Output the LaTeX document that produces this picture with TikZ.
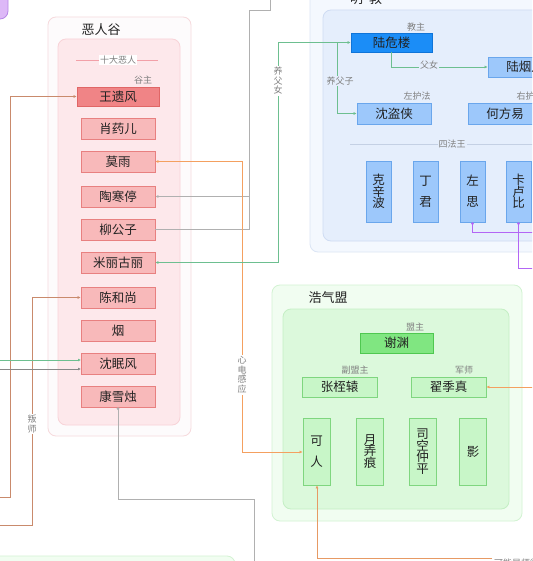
\documentclass[tikz,border=0pt]{standalone}
\usepackage{fontspec}
\setmainfont{Noto Sans CJK SC}
\usetikzlibrary{arrows.meta}
\definecolor{erOutFill}{HTML}{FDFBFC}
\definecolor{erOutBd}{HTML}{F6DADD}
\definecolor{erInFill}{HTML}{FDE8EB}
\definecolor{erInBd}{HTML}{F8D3D8}
\definecolor{erBox}{HTML}{F8B9BA}
\definecolor{erBoxBd}{HTML}{E88080}
\definecolor{erDark}{HTML}{F08486}
\definecolor{erDarkBd}{HTML}{E06666}
\definecolor{mjOutFill}{HTML}{F4F8FE}
\definecolor{mjOutBd}{HTML}{DBE5F5}
\definecolor{mjInFill}{HTML}{E5EEFC}
\definecolor{mjInBd}{HTML}{CFDCF3}
\definecolor{mjBox}{HTML}{9DC8FB}
\definecolor{mjBoxBd}{HTML}{6AA6EC}
\definecolor{mjDark}{HTML}{1B8DF7}
\definecolor{mjDarkBd}{HTML}{0F74D8}
\definecolor{hqOutFill}{HTML}{F1FDF1}
\definecolor{hqOutBd}{HTML}{D2F3D2}
\definecolor{hqInFill}{HTML}{DCF9DC}
\definecolor{hqInBd}{HTML}{C4EFC4}
\definecolor{hqBox}{HTML}{C8F6C8}
\definecolor{hqBoxBd}{HTML}{7FD67F}
\definecolor{hqDark}{HTML}{80E681}
\definecolor{hqDarkBd}{HTML}{4FC850}
\definecolor{lnGray}{HTML}{B0B0B0}
\definecolor{lnOrange}{HTML}{F4A060}
\definecolor{lnGreen}{HTML}{6DBF90}
\definecolor{lnBrown}{HTML}{C98A6C}
\definecolor{lnPurple}{HTML}{B366F5}
\definecolor{lnDark}{HTML}{555555}
\definecolor{sepPink}{HTML}{F2A0A8}
\definecolor{sepBlue}{HTML}{C4D0E4}
\definecolor{txt}{HTML}{222222}
\definecolor{lblc}{HTML}{808080}
\definecolor{purpleFill}{HTML}{DDB8F7}
\definecolor{purpleBd}{HTML}{B685E6}
\begin{document}
\begin{tikzpicture}[x=1pt,y=-1pt,
  grp/.style={rounded corners=8pt, line width=0.8pt},
  boxbase/.style={draw, line width=0.8pt, inner sep=0pt, text=txt,
    font=\fontsize{12.5}{13}\selectfont},
  erb/.style={boxbase, draw=erBoxBd, fill=erBox, minimum width=74pt, minimum height=21pt},
  erhead/.style={boxbase, draw=erDarkBd, fill=erDark, minimum width=82pt, minimum height=19pt},
  mjb/.style={boxbase, draw=mjBoxBd, fill=mjBox, minimum width=74pt, minimum height=21pt},
  mjhead/.style={boxbase, draw=mjDarkBd, fill=mjDark, minimum width=81pt, minimum height=19pt},
  mjv/.style={boxbase, draw=mjBoxBd, fill=mjBox, minimum width=25pt, minimum height=61pt, align=center},
  hqb/.style={boxbase, draw=hqBoxBd, fill=hqBox, minimum width=75pt, minimum height=20pt},
  hqhead/.style={boxbase, draw=hqDarkBd, fill=hqDark, minimum width=73pt, minimum height=20pt},
  hqv/.style={boxbase, draw=hqBoxBd, fill=hqBox, minimum width=27pt, minimum height=67pt, align=center},
  lbl/.style={font=\fontsize{9}{9.5}\selectfont, text=lblc, inner sep=1pt},
  vlbl/.style={lbl, align=center, fill=white, inner sep=1.5pt},
  title/.style={font=\fontsize{13}{13}\selectfont, text=txt},
  tip/.style={-{Latex[length=3pt,width=3pt]}},
  tips/.style={{Latex[length=3pt,width=3pt]}-{Latex[length=3pt,width=3pt]}},
  conn/.style={line width=0.9pt}
]
\useasboundingbox (0,0) rectangle (532,561);
\clip (0,0) rectangle (532,561);
\fill[white] (0,0) rectangle (532,561);

% ---------- group frames ----------
\draw[grp, fill=purpleFill, draw=purpleBd] (-10,-10) rectangle (8,19);
\draw[grp, fill=hqOutFill, draw=hqOutBd] (-10,556) rectangle (235,600);

\draw[grp, fill=erOutFill, draw=erOutBd] (48,17) rectangle (191,436);
\draw[grp, fill=erInFill, draw=erInBd] (58,39) rectangle (180,425);
\node[title] (ertitle) at (101,30) {恶人谷};

\draw[grp, fill=mjOutFill, draw=mjOutBd] (310,-20) rectangle (570,252);
\draw[grp, fill=mjInFill, draw=mjInBd] (323,10) rectangle (560,241);
\node[title] (mjtitle) at (366,-1) {明\hspace{6pt}教};

\draw[grp, fill=hqOutFill, draw=hqOutBd] (272,285) rectangle (522,521);
\draw[grp, fill=hqInFill, draw=hqInBd] (283,309) rectangle (509,509);
\node[title] (hqtitle) at (328,298) {浩气盟};

% ---------- separators ----------
\coordinate (sepA) at (76,60);
\coordinate (sepB) at (158,60);
\draw[sepPink, line width=0.8pt] (sepA) -- (sepB);
\node[lbl, fill=white] (shida) at (118,60) {十大恶人};

\coordinate (sepC) at (350,144);
\coordinate (sepD) at (540,144);
\draw[sepBlue, line width=0.8pt] (sepC) -- (sepD);
\node[lbl, fill=mjInFill] (sifa) at (452,144) {四法王};

% ---------- 恶人谷 ----------
\node[erhead] (wyf) at (118,96.5) {王遗风};
\node[lbl] (guzhu) at (143,80) {谷主};
\node[erb] (xye) at (118,128.5) {肖药儿};
\node[erb] (my) at (118,161.5) {莫雨};
\node[erb] (tht) at (118,196.5) {陶寒停};
\node[erb] (lgz) at (118,229.5) {柳公子};
\node[erb] (mlgl) at (118,262.5) {米丽古丽};
\node[erb] (chs) at (118,297.5) {陈和尚};
\node[erb] (yan) at (118,330.5) {烟};
\node[erb] (smf) at (118,363.5) {沈眠风};
\node[erb] (kxz) at (118,396.5) {康雪烛};

% ---------- 明教 ----------
\node[mjhead] (lwl) at (391.5,42.5) {陆危楼};
\node[lbl] (jiaozhu) at (416,27) {教主};
\node[mjb, minimum height=20pt] (lye) at (525,67) {陆烟儿};
\node[mjb] (sdx) at (394,113.5) {沈盗侠};
\node[lbl] (zuohu) at (417,96) {左护法};
\node[mjb] (hfy) at (505,113.5) {何方易};
\node[lbl] (youhu) at (530,96) {右护法};
\node[mjv] (kxb) at (378.5,191.5) {克\\[-1.5pt]辛\\[-1.5pt]波};
\node[mjv] (dj) at (425.5,191.5) {丁\\[8pt]君};
\node[mjv] (zs) at (472.5,191.5) {左\\[8pt]思};
\node[mjv] (klb) at (518.5,191.5) {卡\\[-1.5pt]卢\\[-1.5pt]比};

% ---------- 浩气盟 ----------
\node[hqhead] (xy) at (396.5,343) {谢渊};
\node[lbl] (mengzhu) at (415,327) {盟主};
\node[hqb] (zzy) at (339.5,387) {张桎辕};
\node[lbl] (fumeng) at (355,370) {副盟主};
\node[hqb] (zjz) at (448.5,387) {翟季真};
\node[lbl] (junshi) at (464,370) {军师};
\node[hqv] (kr) at (316.5,451.5) {可\\[8pt]人};
\node[hqv] (ynh) at (370,451.5) {月\\[-1.5pt]弄\\[-1.5pt]痕};
\node[hqv] (skzp) at (422.5,451.5) {司\\[-1.5pt]空\\[-1.5pt]仲\\[-1.5pt]平};
\node[hqv] (ying) at (473,451.5) {影};

% ---------- connectors ----------
\coordinate (b1a) at (0,497);
\coordinate (b1b) at (10,497);
\coordinate (b1c) at (10,96.5);
\draw[conn, lnBrown, tip] (b1a) -- (b1b) -- (b1c) -- (wyf.west);

\coordinate (b2a) at (0,525);
\coordinate (b2b) at (32,525);
\coordinate (b2c) at (32,297.5);
\draw[conn, lnBrown, tip] (b2a) -- (b2b) -- (b2c) -- (chs.west);
\node[vlbl] (panshi) at (32,424) {叛\\师};

\coordinate (g1a) at (0,360);
\coordinate (g1b) at (81,360);
\draw[conn, lnGreen, tip] (g1a) -- (g1b);
\coordinate (d1a) at (0,369);
\coordinate (d1b) at (81,369);
\draw[conn, lnDark!70, tip] (d1a) -- (d1b);

\coordinate (ga) at (270,0);
\coordinate (gb) at (270,10);
\coordinate (gc) at (249,10);
\coordinate (gd) at (249,196.5);
\draw[conn, lnGray, tip] (ga) -- (gb) -- (gc) -- (gd) -- (tht.east);
\coordinate (ge) at (249,229.5);
\draw[conn, lnGray] (lgz.east) -- (ge) -- (gd);

\coordinate (oa) at (242,161.5);
\coordinate (ob) at (242,452);
\draw[conn, lnOrange, tips] (my.east) -- (oa) -- (ob) -- (kr.west |- ob);
\node[vlbl] (xindian) at (242,375) {心\\电\\感\\应};

\coordinate (gr1) at (278,42.5);
\coordinate (gr2) at (278,262.5);
\draw[conn, lnGreen, tips] (lwl.west) -- (gr1) -- (gr2) -- (mlgl.east);
\node[vlbl] (yfn) at (278,81) {养\\父\\女};

\coordinate (gs1) at (337,42.5);
\coordinate (gs2) at (337,113.5);
\draw[conn, lnGreen, tip] (gs1) -- (gs2) -- (sdx.west);
\node[lbl, fill=mjInFill] (yfz) at (340,81) {养父子};

\coordinate (fn1) at (391.5,67);
\draw[conn, lnGreen, tip] (lwl.south) -- (fn1) -- (lye.west);
\node[lbl, fill=mjInFill] (fnl) at (429,65) {父女};

\coordinate (p1a) at (472.5,232);
\coordinate (p1b) at (540,232);
\draw[conn, lnPurple, {Circle[length=2.5pt]}-] (zs.south) -- (p1a) -- (p1b);
\coordinate (p2a) at (518.5,268);
\coordinate (p2b) at (540,268);
\draw[conn, lnPurple, {Circle[length=2.5pt]}-] (klb.south) -- (p2a) -- (p2b);

\coordinate (k1) at (118,499);
\coordinate (k2) at (254,499);
\coordinate (k3) at (254,570);
\draw[conn, lnGray, {Circle[length=2.5pt]}-] (kxz.south) -- (k1) -- (k2) -- (k3);

\coordinate (or1) at (540,387);
\draw[conn, lnOrange, tip] (or1) -- (zjz.east);

\coordinate (kb1) at (317,558);
\coordinate (kb2) at (492,558);
\draw[conn, lnOrange!70!lnBrown, tip] (kb2) -- (kb1) -- (kr.south -| kb1);
\node[lbl, anchor=west] (knss) at (493,563) {可能是师徒};
\end{tikzpicture}
\end{document}
